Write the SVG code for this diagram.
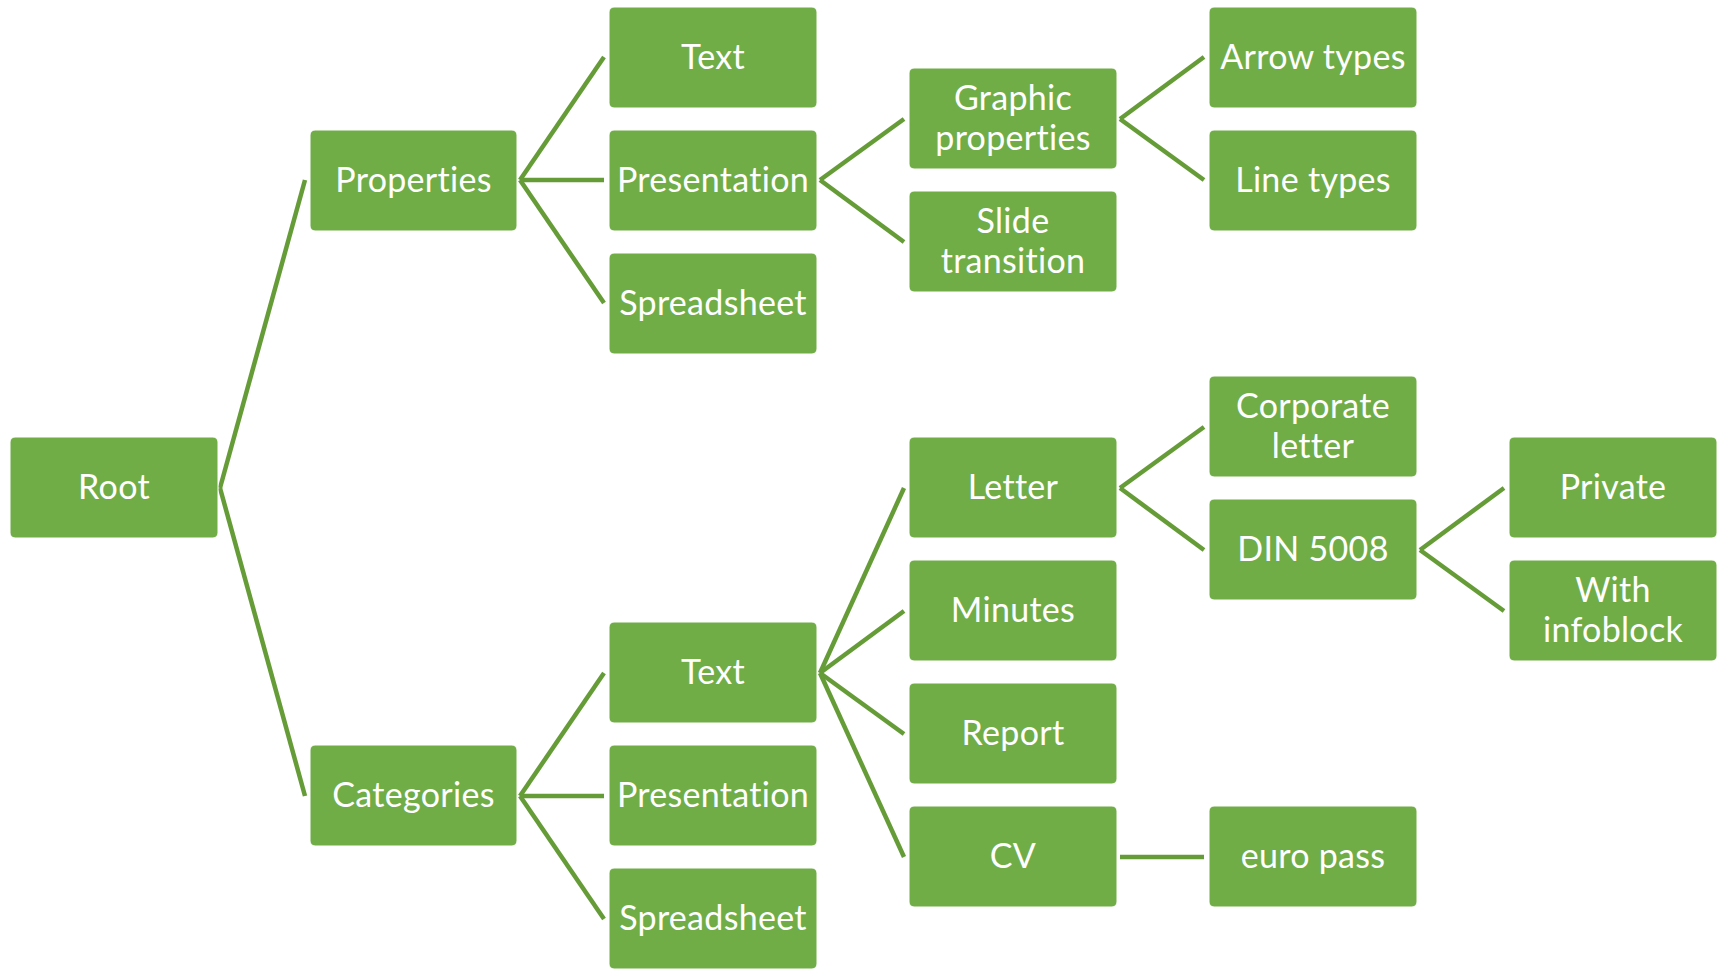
<svg xmlns="http://www.w3.org/2000/svg" width="1719" height="971" viewBox="0 0 1719 971">
<style>
.box{fill:#70AD47;stroke:#ffffff;stroke-width:1}
.lbl{fill:#ffffff;font-family:Lato,"Open Sans","Liberation Sans",sans-serif;font-size:34px;letter-spacing:0.3px;text-anchor:middle;font-variant-ligatures:none;font-feature-settings:"liga" 0,"clig" 0,"dlig" 0}
.c line{stroke:#659C37;stroke-width:4.5;stroke-linecap:butt}
</style>
<rect width="1719" height="971" fill="#ffffff"/>
<g class="c" id="connectors">
<line x1="220" y1="488" x2="305" y2="180"/>
<line x1="220" y1="488" x2="305" y2="796"/>
<line x1="520" y1="180" x2="604" y2="57"/>
<line x1="520" y1="180" x2="604" y2="180"/>
<line x1="520" y1="180" x2="604" y2="303"/>
<line x1="820" y1="180" x2="904" y2="119"/>
<line x1="820" y1="180" x2="904" y2="242"/>
<line x1="1120" y1="119" x2="1204" y2="57"/>
<line x1="1120" y1="119" x2="1204" y2="180"/>
<line x1="520" y1="796" x2="604" y2="673"/>
<line x1="520" y1="796" x2="604" y2="796"/>
<line x1="520" y1="796" x2="604" y2="919"/>
<line x1="820" y1="673" x2="904" y2="488"/>
<line x1="820" y1="673" x2="904" y2="611"/>
<line x1="820" y1="673" x2="904" y2="734"/>
<line x1="820" y1="673" x2="904" y2="857"/>
<line x1="1120" y1="488" x2="1204" y2="427"/>
<line x1="1120" y1="488" x2="1204" y2="550"/>
<line x1="1420" y1="550" x2="1504" y2="488"/>
<line x1="1420" y1="550" x2="1504" y2="611"/>
<line x1="1120" y1="857" x2="1204" y2="857"/>
</g>
<g id="root"><rect class="box" x="10" y="437" width="208" height="101" rx="5"/><text class="lbl" x="114" y="499">Root</text></g>
<g id="properties"><rect class="box" x="310" y="130" width="207" height="101" rx="5"/><text class="lbl" x="413.5" y="192">Properties</text></g>
<g id="p-text"><rect class="box" x="609" y="7" width="208" height="101" rx="5"/><text class="lbl" x="713" y="69">Text</text></g>
<g id="p-presentation"><rect class="box" x="609" y="130" width="208" height="101" rx="5"/><text class="lbl" x="713" y="192">Presentation</text></g>
<g id="p-spreadsheet"><rect class="box" x="609" y="253" width="208" height="101" rx="5"/><text class="lbl" x="713" y="315">Spreadsheet</text></g>
<g id="graphic"><rect class="box" x="909" y="68" width="208" height="101" rx="5"/><text class="lbl" x="1013" y="110">Graphic</text><text class="lbl" x="1013" y="150">properties</text></g>
<g id="slide"><rect class="box" x="909" y="191" width="208" height="101" rx="5"/><text class="lbl" x="1013" y="233">Slide</text><text class="lbl" x="1013" y="273">transition</text></g>
<g id="arrow-types"><rect class="box" x="1209" y="7" width="208" height="101" rx="5"/><text class="lbl" x="1313" y="69">Arrow types</text></g>
<g id="line-types"><rect class="box" x="1209" y="130" width="208" height="101" rx="5"/><text class="lbl" x="1313" y="192">Line types</text></g>
<g id="categories"><rect class="box" x="310" y="745" width="207" height="101" rx="5"/><text class="lbl" x="413.5" y="807">Categories</text></g>
<g id="c-text"><rect class="box" x="609" y="622" width="208" height="101" rx="5"/><text class="lbl" x="713" y="684">Text</text></g>
<g id="c-presentation"><rect class="box" x="609" y="745" width="208" height="101" rx="5"/><text class="lbl" x="713" y="807">Presentation</text></g>
<g id="c-spreadsheet"><rect class="box" x="609" y="868" width="208" height="101" rx="5"/><text class="lbl" x="713" y="930">Spreadsheet</text></g>
<g id="letter"><rect class="box" x="909" y="437" width="208" height="101" rx="5"/><text class="lbl" x="1013" y="499">Letter</text></g>
<g id="minutes"><rect class="box" x="909" y="560" width="208" height="101" rx="5"/><text class="lbl" x="1013" y="622">Minutes</text></g>
<g id="report"><rect class="box" x="909" y="683" width="208" height="101" rx="5"/><text class="lbl" x="1013" y="745">Report</text></g>
<g id="cv"><rect class="box" x="909" y="806" width="208" height="101" rx="5"/><text class="lbl" x="1013" y="868">CV</text></g>
<g id="corporate"><rect class="box" x="1209" y="376" width="208" height="101" rx="5"/><text class="lbl" x="1313" y="418">Corporate</text><text class="lbl" x="1313" y="458">letter</text></g>
<g id="din"><rect class="box" x="1209" y="499" width="208" height="101" rx="5"/><text class="lbl" x="1313" y="561">DIN 5008</text></g>
<g id="europass"><rect class="box" x="1209" y="806" width="208" height="101" rx="5"/><text class="lbl" x="1313" y="868">euro pass</text></g>
<g id="private"><rect class="box" x="1509" y="437" width="208" height="101" rx="5"/><text class="lbl" x="1613" y="499">Private</text></g>
<g id="infoblock"><rect class="box" x="1509" y="560" width="208" height="101" rx="5"/><text class="lbl" x="1613" y="602">With</text><text class="lbl" x="1613" y="642">infoblock</text></g>
</svg>
